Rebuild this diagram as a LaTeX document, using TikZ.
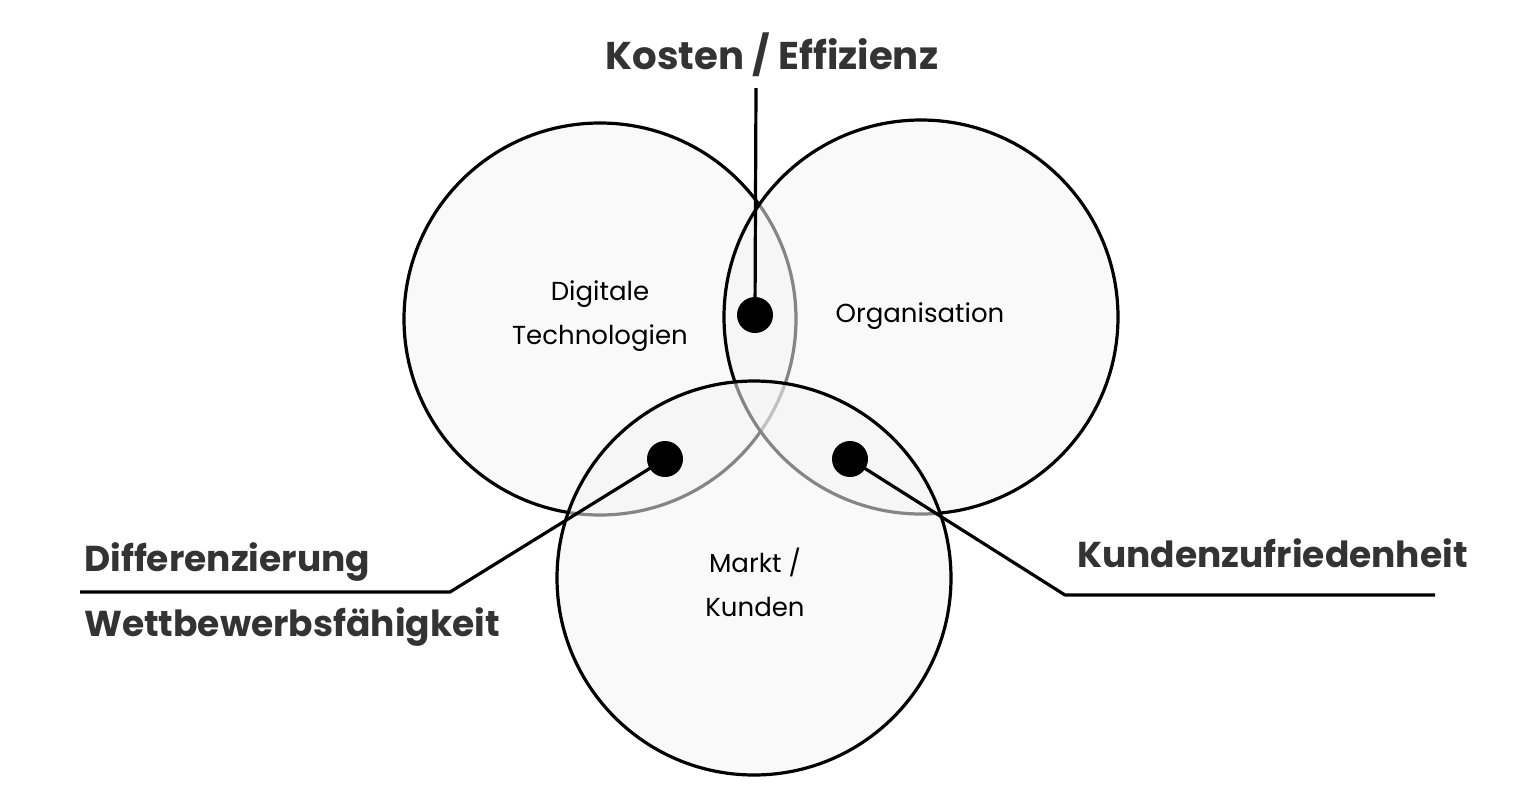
\documentclass[tikz,border=0pt]{standalone}
\usepackage{fontspec}
\setmainfont{Poppins}
\definecolor{labelgray}{HTML}{333333}
\definecolor{circfill}{HTML}{F4F4F4}
\begin{document}
\begin{tikzpicture}[x=0.75pt,y=-0.75pt,
  venn/.style={draw=black, line width=2.4pt, fill=circfill, fill opacity=0.55},
  dotmark/.style={circle, fill=black, minimum size=27pt, inner sep=0pt},
  conn/.style={draw=black, line width=2.4pt},
  biglabel/.style={text=labelgray, font=\fontsize{27}{32}\selectfont\bfseries, inner sep=0pt},
  toplabel/.style={biglabel, font=\fontsize{29}{34}\selectfont\bfseries},
  inlabel/.style={text=black, font=\fontsize{19.5}{33}\selectfont, align=center, inner sep=0pt}]
\useasboundingbox (0,0) rectangle (1536,808);
% circles
\path[venn] (600,319) circle[radius=196];
\path[venn] (921,317) circle[radius=197];
\path[venn] (754,578) circle[radius=197];
% inner labels
\node[inlabel] (dt) at (600,316) {Digitale\\Technologien};
\node[inlabel] (org) at (920,316) {Organisation};
\node[inlabel] (mk) at (755,582) {Markt /\\Kunden};
% dots
\node[dotmark] (d1) at (755,315) {};
\node[dotmark] (d2) at (665,459) {};
\node[dotmark] (d3) at (850,459) {};
% labels
\node[toplabel] (ke) at (772,55) {Kosten / Effizienz};
\node[biglabel, anchor=west] (diff) at (84,562) {Differenzierung};
\node[biglabel, anchor=west] (wett) at (84,627) {Wettbewerbsfähigkeit};
\node[biglabel, anchor=west] (kz) at (1077,553) {Kundenzufriedenheit};
% connectors
\coordinate (k1) at (756,88);
\coordinate (l1) at (450,592);
\coordinate (l2) at (80,592);
\coordinate (r1) at (1065,595);
\coordinate (r2) at (1435,595);
\draw[conn] (d1.center) -- (k1);
\draw[conn, line join=round] (d2.center) -- (l1) -- (l2);
\draw[conn, line join=round] (d3.center) -- (r1) -- (r2);
\end{tikzpicture}
\end{document}
